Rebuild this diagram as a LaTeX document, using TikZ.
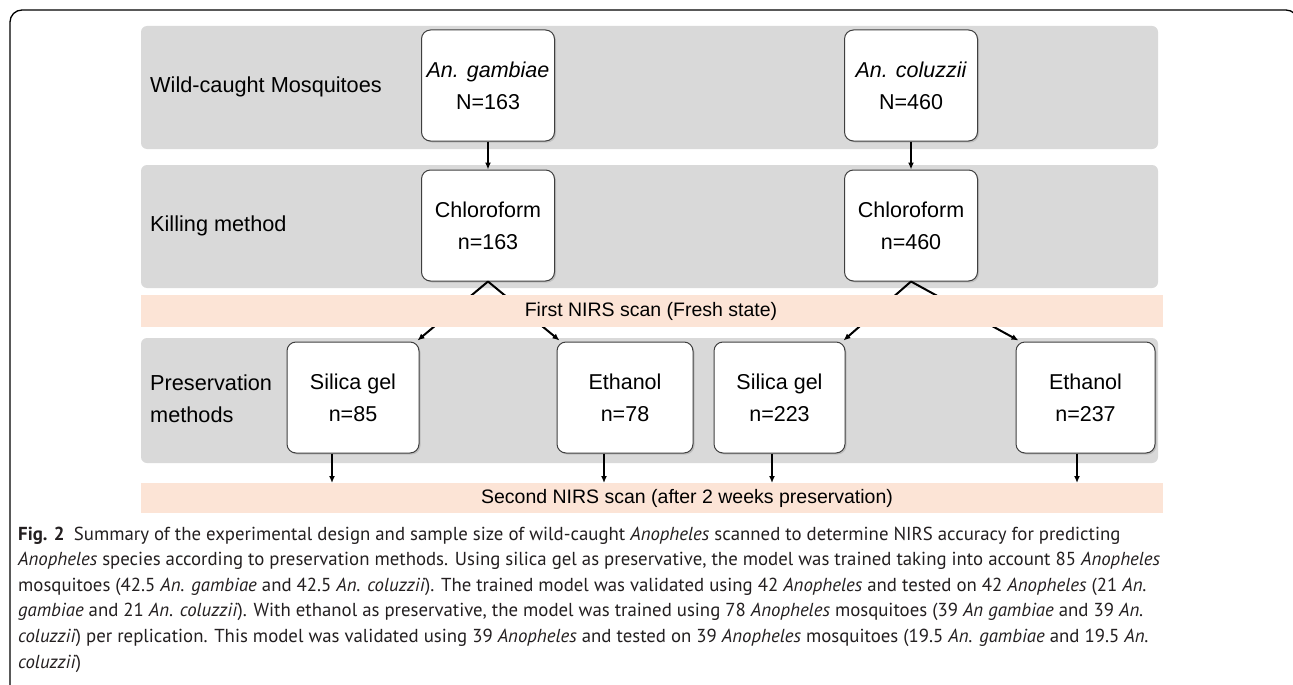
\documentclass[tikz,border=0pt]{standalone}
\usepackage{fontspec}
\setmainfont{Liberation Sans}
\newfontfamily\capfont{PT Sans}
\usetikzlibrary{arrows.meta,shadows,calc}
\definecolor{bandgray}{HTML}{D9D9D9}
\definecolor{peach}{HTML}{FCE4D6}
\definecolor{boxline}{HTML}{3F3F3F}
\definecolor{captxt}{HTML}{231F20}
\begin{document}
\begin{tikzpicture}[x=1pt,y=-1pt,
  band/.style={fill=bandgray, rounded corners=6pt},
  scanband/.style={fill=peach, inner sep=0pt, outer sep=0pt},
  box/.style={draw=boxline, line width=1pt, fill=white, rounded corners=9pt,
    minimum height=111pt, inner sep=0pt, align=center,
    font=\fontsize{21.5}{32}\selectfont,
    drop shadow={shadow xshift=1.5pt, shadow yshift=-1.5pt, opacity=0.3}},
  rowlabel/.style={anchor=west, inner sep=0pt, align=left, font=\fontsize{21.7}{32}\selectfont},
  scantext/.style={inner sep=0pt, font=\fontsize{19.5}{24}\selectfont},
  arr/.style={line width=2pt, -{Latex[length=7pt,width=6pt]}},
  captext/.style={anchor=base west, inner sep=0pt, text=captxt, font=\capfont\fontsize{18.8}{25.6}\selectfont}
]
\useasboundingbox (0,0) rectangle (1293,685);
\fill[white] (0,0) rectangle (1293,685);
\begin{scope}
  \clip (0,0) rectangle (1293,685);
  \draw[line width=1.3pt, rounded corners=12pt] (10,700) -- (10,10) -- (1298,10) -- (1298,700);
\end{scope}

% grey bands
\fill[band] (141,26) rectangle (1158,149);
\fill[band] (141,165) rectangle (1158,288);
\fill[band] (141,338) rectangle (1158,463);

% row labels
\node[rowlabel] (lwild) at (150,87) {Wild-caught Mosquitoes};
\node[rowlabel] (lkill) at (150,226) {Killing method};
\node[rowlabel] (lpres) at (150,399) {Preservation\\methods};

% boxes
\node[box, minimum width=133pt] (gamb) at (488,85.5) {\itshape An. gambiae\\N=163};
\node[box, minimum width=133pt] (colu) at (911,85.5) {\itshape An. coluzzii\\N=460};
\node[box, minimum width=133pt] (chl1) at (488,225.5) {Chloroform\\n=163};
\node[box, minimum width=133pt] (chl2) at (911,225.5) {Chloroform\\n=460};
\node[box, minimum width=132pt] (sil1) at (353,397.5) {Silica gel\\n=85};
\node[box, minimum width=136pt] (eth1) at (625,397.5) {Ethanol\\n=78};
\node[box, minimum width=131pt] (sil2) at (779.5,397.5) {Silica gel\\n=223};
\node[box, minimum width=139pt] (eth2) at (1085.5,397.5) {Ethanol\\n=237};

% arrows
\draw[arr] (gamb.south) -- (chl1.north);
\draw[arr] (colu.south) -- (chl2.north);
\draw[arr] (chl1.south) -- ([xshift=-2pt,yshift=1pt]sil1.north east);
\draw[arr] (chl1.south) -- ([xshift=3pt,yshift=1pt]eth1.north west);
\draw[arr] (chl2.south) -- ([xshift=-2pt,yshift=1pt]sil2.north east);
\draw[arr] (chl2.south) -- ([xshift=3pt,yshift=1pt]eth2.north west);

% scan bands
\node[scanband, minimum width=1022pt, minimum height=32pt] (scan1) at (652,311) {};
\node[scanband, minimum width=1022pt, minimum height=30pt] (scan2) at (652,498) {};
\node[scantext] (t1) at (651,311.5) {First NIRS scan (Fresh state)};
\node[scantext] (t2) at (687,498.5) {Second NIRS scan (after 2 weeks preservation)};

\draw[arr] ([xshift=-21pt]sil1.south) -- ([xshift=-21pt]sil1.south |- scan2.north);
\draw[arr] ([xshift=-21pt]eth1.south) -- ([xshift=-21pt]eth1.south |- scan2.north);
\draw[arr] ([xshift=-7.5pt]sil2.south) -- ([xshift=-7.5pt]sil2.south |- scan2.north);
\draw[arr] ([xshift=-8.5pt]eth2.south) -- ([xshift=-8.5pt]eth2.south |- scan2.north);

% caption
\node[captext] (c1) at (18,540) {\textbf{Fig. 2}\enspace Summary of the experimental design and sample size of wild-caught \textit{Anopheles} scanned to determine NIRS accuracy for predicting};
\node[captext] (c2) at (18,565.6) {\textit{Anopheles} species according to preservation methods. Using silica gel as preservative, the model was trained taking into account 85 \textit{Anopheles}};
\node[captext] (c3) at (18,591.2) {mosquitoes (42.5 \textit{An. gambiae} and 42.5 \textit{An. coluzzii}). The trained model was validated using 42 \textit{Anopheles} and tested on 42 \textit{Anopheles} (21 \textit{An.}};
\node[captext] (c4) at (18,616.8) {\textit{gambiae} and 21 \textit{An. coluzzii}). With ethanol as preservative, the model was trained using 78 \textit{Anopheles} mosquitoes (39 \textit{An gambiae} and 39 \textit{An.}};
\node[captext] (c5) at (18,642.4) {\textit{coluzzii}) per replication. This model was validated using 39 \textit{Anopheles} and tested on 39 \textit{Anopheles} mosquitoes (19.5 \textit{An. gambiae} and 19.5 \textit{An.}};
\node[captext] (c6) at (18,668) {\textit{coluzzii})};
\end{tikzpicture}
\end{document}
